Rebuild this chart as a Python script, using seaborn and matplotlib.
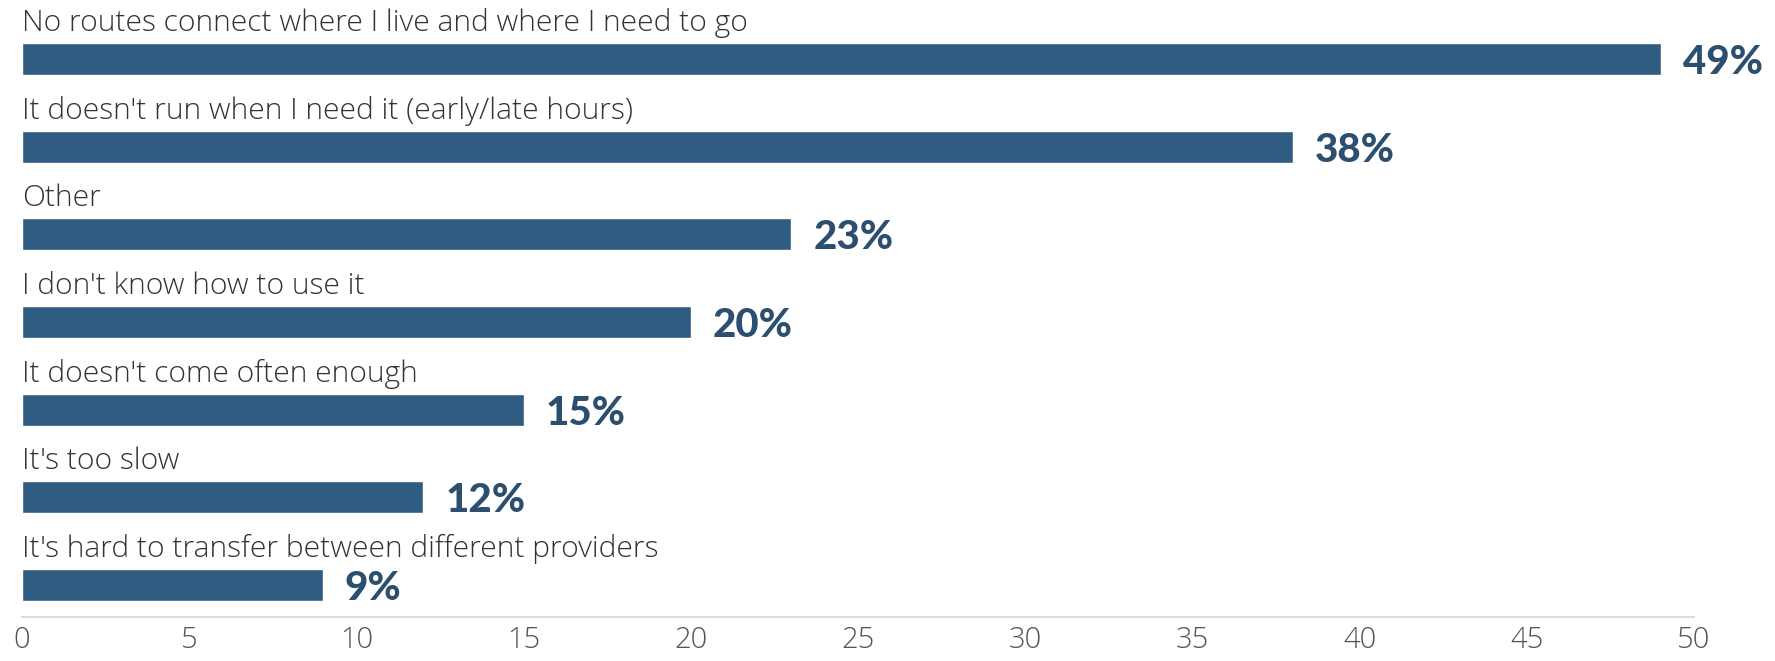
import matplotlib
matplotlib.use("Agg")
import matplotlib.pyplot as plt
import seaborn as sns
import pandas as pd

reasons = [
    "No routes connect where I live and where I need to go",
    "It doesn't run when I need it (early/late hours)",
    "Other",
    "I don't know how to use it",
    "It doesn't come often enough",
    "It's too slow",
    "It's hard to transfer between different providers",
]
shares = [49, 38, 23, 20, 15, 12, 9]
ticks = [0, 5, 10, 15, 20, 25, 30, 35, 40, 45, 50]

df = pd.DataFrame({"reason": reasons, "share": shares})

sns.set_theme(style="white")
plt.rcParams["font.family"] = ["Open Sans", "DejaVu Sans"]

bar_color = "#305c82"
value_color = "#2c4f70"

fig = plt.figure(figsize=(17.75, 6.61), dpi=100)
ax = fig.add_axes([0.0124, 0.0666, 0.942, 0.9334])

sns.barplot(data=df, x="share", y="reason", orient="h", color=bar_color,
            width=0.365, saturation=1, ax=ax)

ax.set_xlim(0, 50)
ax.set_ylim(6.365, -0.673)
ax.set_xticks(ticks)
ax.set_xticklabels([str(t) for t in ticks], fontweight="light")
ax.set_yticks([])
ax.set_xlabel("")
ax.set_ylabel("")
for side in ("top", "left", "right"):
    ax.spines[side].set_visible(False)
ax.spines["bottom"].set_color("#dddddd")
ax.spines["bottom"].set_linewidth(1.5)
ax.tick_params(axis="x", direction="in", length=6, width=1.2,
               color="#dddddd", pad=6, labelsize=21, labelcolor="#555555")

for i, (label, val) in enumerate(zip(reasons, shares)):
    ax.text(0, i - 0.41, label, ha="left", va="center", fontsize=21.6,
            fontweight="light", color="#333333")
    ax.annotate(f"{val}%", xy=(val, i + 0.04), xytext=(22, 0),
                textcoords="offset pixels", ha="left", va="center",
                fontsize=29, fontweight="black", color=value_color,
                family=["Lato", "DejaVu Sans"])

fig.savefig("out.png", dpi=100, facecolor="white")
